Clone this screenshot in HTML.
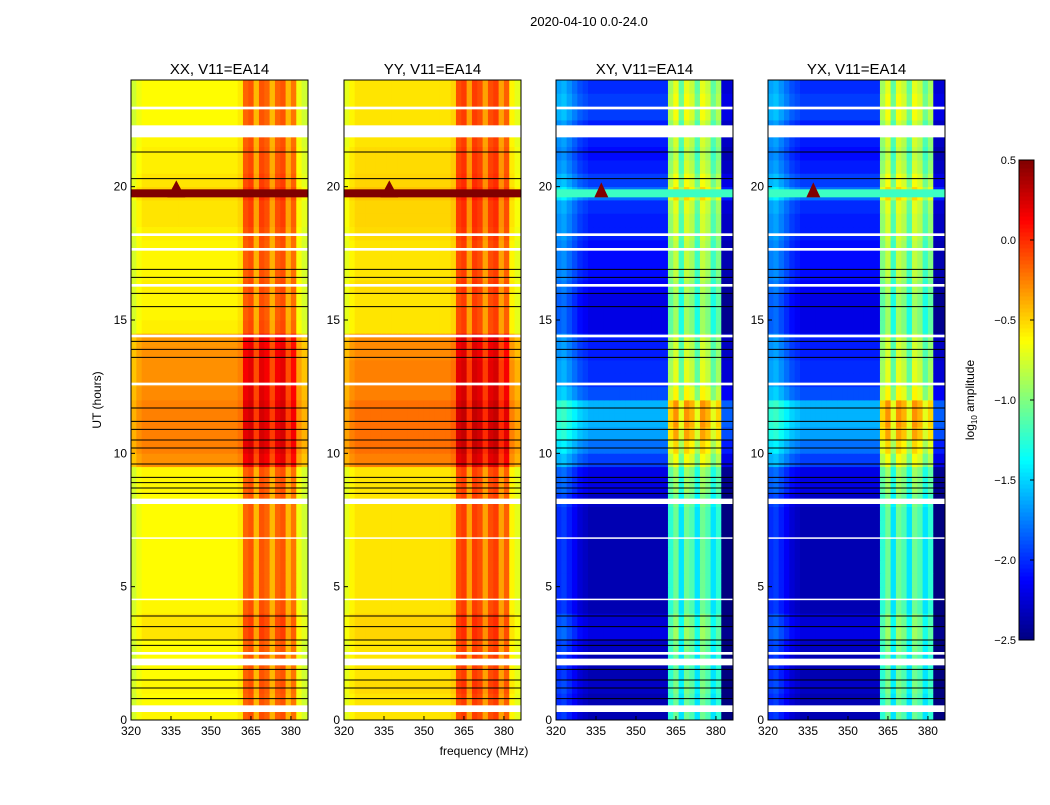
<!DOCTYPE html>
<html><head><meta charset="utf-8"><style>
body{margin:0;background:#fff;width:1050px;height:800px;overflow:hidden;font-family:"Liberation Sans",sans-serif}
svg text{font-family:"Liberation Sans",sans-serif}
</style></head><body>
<svg id="fig" width="1050" height="800" xmlns="http://www.w3.org/2000/svg">
<text x="589" y="26" font-size="13" text-anchor="middle">2020-04-10 0.0-24.0</text>
<text x="484" y="755" font-size="12" text-anchor="middle">frequency (MHz)</text>
<text transform="translate(101,400) rotate(-90)" font-size="12" text-anchor="middle">UT (hours)</text>
<g id="panels"></g>
<g id="cbar"></g>
<text transform="translate(974,400) rotate(-90)" font-size="12" text-anchor="middle">log<tspan font-size="8" dy="3">10</tspan><tspan dy="-3"> amplitude</tspan></text>
</svg>
<script>
// ---- data ----
const panelTitles=["XX, V11=EA14","YY, V11=EA14","XY, V11=EA14","YX, V11=EA14"];
const xTicks=[320,335,350,365,380];
const yTicks=[0,5,10,15,20];
const cbTicks=[0.5,0.0,-0.5,-1.0,-1.5,-2.0,-2.5];
const freqBins=[320,322,324,326,328,330,332,334,336,338,340,342,344,346,348,350,352,354,356,358,360,362,364,366,368,370,372,374,376,378,380,382,384,386.4];
const timeBins=[0,0.5,1,1.5,2,2.5,3,3.5,4,4.5,5,5.5,6,6.5,7,7.5,8,8.5,9,9.5,10,10.5,11,11.5,12,12.5,13,13.5,14,14.5,15,15.5,16,16.5,17,17.5,18,18.5,19,19.5,20,20.5,21,21.5,22,22.5,23,23.5,24];
const rowXX=[-0.6,-0.62,-0.6,-0.62,-0.62,-0.62,-0.55,-0.55,-0.6,-0.62,-0.62,-0.62,-0.62,-0.62,-0.62,-0.62,-0.62,-0.6,-0.6,-0.3,-0.25,-0.25,-0.25,-0.25,-0.28,-0.3,-0.3,-0.3,-0.32,-0.58,-0.6,-0.6,-0.58,-0.6,-0.6,-0.6,-0.58,-0.55,-0.55,-0.5,-0.55,-0.58,-0.58,-0.6,-0.62,-0.62,-0.62,-0.62];
const rowYY=[-0.55,-0.55,-0.52,-0.55,-0.55,-0.55,-0.5,-0.5,-0.55,-0.55,-0.55,-0.55,-0.55,-0.55,-0.55,-0.55,-0.55,-0.55,-0.55,-0.25,-0.2,-0.2,-0.2,-0.2,-0.25,-0.25,-0.25,-0.28,-0.28,-0.55,-0.55,-0.55,-0.52,-0.55,-0.55,-0.55,-0.52,-0.5,-0.5,-0.45,-0.5,-0.52,-0.52,-0.55,-0.55,-0.55,-0.55,-0.55];
const rowXY=[-2.35,-2.35,-2.3,-2.35,-2.35,-2.3,-2.2,-2.25,-2.35,-2.35,-2.35,-2.35,-2.35,-2.35,-2.35,-2.35,-2.3,-2.2,-2.2,-1.95,-1.8,-1.65,-1.6,-1.6,-1.9,-2.0,-2.0,-2.05,-2.05,-2.2,-2.2,-2.2,-2.15,-2.1,-2.1,-2.1,-2.05,-2.05,-2.0,-1.8,-1.95,-2.05,-2.1,-2.05,-2.05,-1.95,-1.95,-2.0];
const colXX=[-0.15,-0.05,0,0,0,0,0,0,0,0,0,0,0,0,0,0,0,0,0,0,0.05,0.45,0.5,0.2,0.5,0.45,0.2,0.45,0.5,0.2,0.4,-0.05,-0.15];
const colXY=[0.35,0.4,0.3,0.2,0.1,0.05,0,0,0,0,0,0,0,0,0,0,0,0,0,0,0,1.1,1.3,0.9,1.3,1.2,0.9,1.3,1.2,0.9,1.1,-0.25,-0.25];
const rfiBands=[[19.6,19.9,0.5]];
const rfiSpikeFreq=[337];
const flagged=[[0.3,0.55],[2.05,2.3],[2.45,2.55],[8.1,8.3],[12.55,12.65],[14.35,14.45],[16.25,16.35],[17.6,17.7],[18.15,18.25],[21.85,22.3],[22.9,23.0],[4.5,4.55],[6.8,6.85]];
const blackLines=[0.8,1.2,1.5,1.9,2.8,3.0,3.5,3.9,8.5,8.7,8.9,9.1,9.6,10.2,10.5,10.9,11.2,11.7,13.6,13.9,14.2,15.5,16.0,16.6,16.9,20.3,21.3];
const panelsData=[[rowXX,colXX],[rowYY,colXX],[rowXY,colXY],[rowXY,colXY]];
// ---- layout ----
const panelLeft=[131,344,556,768], pw=177, plotTop=80, plotBot=720;
const fmin=320,fmax=386.4,tmin=0,tmax=24,vmin=-2.5,vmax=0.5;
function jet(v){let t=(v-vmin)/(vmax-vmin);t=Math.max(0,Math.min(1,t));
 const c=x=>Math.round(255*Math.max(0,Math.min(1,1.5-Math.abs(4*t-x))));
 return `rgb(${c(3)},${c(2)},${c(1)})`;}
const NS="http://www.w3.org/2000/svg";
function mk(tag,attrs,parent){const e=document.createElementNS(NS,tag);for(const k in attrs)e.setAttribute(k,attrs[k]);parent.appendChild(e);return e;}
const G=document.getElementById('panels');
panelTitles.forEach((title,p)=>{
 const x0=panelLeft[p];
 const xs=f=>x0+(f-fmin)/(fmax-fmin)*pw;
 const ys=t=>plotBot-(t-tmin)/(tmax-tmin)*(plotBot-plotTop);
 const g=mk('g',{},G);
 
 
 const [rows,cols]=panelsData[p];
 for(let i=0;i<rows.length;i++)for(let j=0;j<cols.length;j++){
  const x1=xs(freqBins[j]),x2=xs(freqBins[j+1]),y1=ys(timeBins[i+1]),y2=ys(timeBins[i]);
  const r=mk('rect',{x:x1,y:y1,width:x2-x1+0.4,height:y2-y1+0.4,fill:jet(rows[i]+cols[j])},g);
  
  
 }
 rfiBands.forEach(([a,b,v])=>{
  const r=mk('rect',{x:x0,y:ys(b),width:pw,height:ys(a)-ys(b),fill:jet(p<2?v:v-1.7)},g);
  
  
  rfiSpikeFreq.forEach(f=>{
   const h=p<2?9:7;
   const s=mk('polygon',{points:`${xs(f)-h},${ys(a)} ${xs(f)},${ys(b)-h} ${xs(f)+h},${ys(a)}`,fill:jet(v)},g);
   
   
  });
 });
 blackLines.forEach(t=>{const l=mk('line',{x1:x0,x2:x0+pw,y1:ys(t),y2:ys(t),stroke:'#000','stroke-width':1},g);
  
  });
 flagged.forEach(([a,b])=>{const r=mk('rect',{x:x0,y:ys(b),width:pw,height:Math.max(1.5,ys(a)-ys(b)),fill:'#fff'},g);
  
  });
 const fr=mk('rect',{x:x0,y:plotTop,width:pw,height:plotBot-plotTop,fill:'none',stroke:'#000','stroke-width':1},g);
 
 
 const tt=mk('text',{x:x0+pw/2,y:74,'font-size':15,'text-anchor':'middle'},g);tt.textContent=title;
 
 
 xTicks.forEach(f=>{mk('line',{x1:xs(f),x2:xs(f),y1:plotBot,y2:plotBot-4,stroke:'#000'},g);
  const t=mk('text',{x:xs(f),y:plotBot+15,'font-size':12,'text-anchor':'middle'},g);t.textContent=f;
  
  });
 yTicks.forEach(v=>{mk('line',{x1:x0,x2:x0+4,y1:ys(v),y2:ys(v),stroke:'#000'},g);
  const t=mk('text',{x:x0-4,y:ys(v)+4,'font-size':12,'text-anchor':'end'},g);t.textContent=v;
  
  });
});
// colorbar
const CB=document.getElementById('cbar');const cx=1019,cw=15,ct=160,cb=640;
const cy=v=>cb-(v-vmin)/(vmax-vmin)*(cb-ct);
for(let k=0;k<120;k++){const v=vmin+(k+0.5)*(vmax-vmin)/120;mk('rect',{x:cx,y:cb-(k+1)*(cb-ct)/120,width:cw,height:(cb-ct)/120+0.5,fill:jet(v)},CB);}
mk('rect',{x:cx,y:ct,width:cw,height:cb-ct,fill:'none',stroke:'#000'},CB);
cbTicks.forEach(v=>{mk('line',{x1:cx+cw-4,x2:cx+cw,y1:cy(v),y2:cy(v),stroke:'#000'},CB);
 const t=mk('text',{x:cx-3,y:cy(v)+4,'font-size':11,'text-anchor':'end'},CB);t.textContent=(v<0?'\u2212':'')+Math.abs(v).toFixed(1);
 
 });
</script>
</body></html>
